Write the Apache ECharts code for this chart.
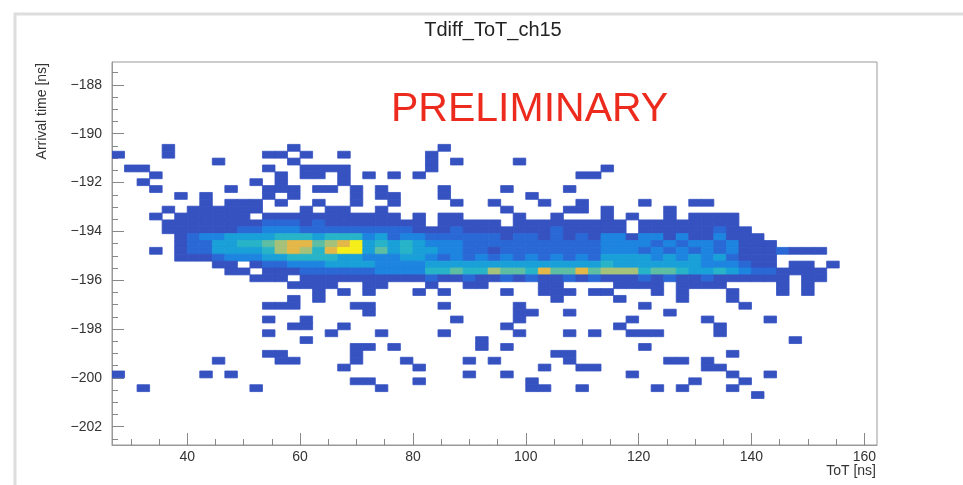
<!DOCTYPE html>
<html>
<head>
<meta charset="utf-8">
<title>Tdiff_ToT_ch15</title>
<script src="https://cdn.jsdelivr.net/npm/echarts@6/dist/echarts.min.js"></script>
<style>
  html, body { margin: 0; padding: 0; background: #fff; }
  #chart { width: 963px; height: 485px; }
</style>
</head>
<body>
<div id="chart"></div>
<script>
// visible range and binning of the histogram (ns)
const xMin = 26.667, xMax = 162.25;
const yMin = -202.75, yMax = -187.0625;
const xBin = 2.2222, yBin = 0.28125;
const firstRow = 12; // first stored row, counted down from yMax

// tick labels
const xMajor = [40, 60, 80, 100, 120, 140, 160];
const xMinor = [30, 35, 45, 50, 55, 65, 70, 75, 85, 90, 95, 105, 110, 115, 125, 130, 135, 145, 150, 155];
const yMajor = [-188, -190, -192, -194, -196, -198, -200, -202];
const yMinor = [-187.5, -188.5, -189, -189.5, -190.5, -191, -191.5, -192.5, -193, -193.5, -194.5,
  -195, -195.5, -196.5, -197, -197.5, -198.5, -199, -199.5, -200.5, -201, -201.5, -202.5];

// colour level of each bin (1..9, '.' = empty), one string per row, top to bottom
const counts = [
  '....1..... ....1..... ......1... .......... .......... ...........',
  '1...1..... ..11.1..1. .....1.... .......... .......... ...........',
  '........1. ....1..... .....1.1.. ..1....... .......... ...........',
  '.11....... ..1..1111. .....1.... .........1 .......... ...........',
  '...1...... ...1.11.1. 1.1.1..... .......11. .......... ...........',
  '..1....... .1.1....1. .......... .......... .......... ...........',
  '...1.....1 ..111.11.1 .1....1... .1....1... .......... ...........',
  '.....1.1.. ..1.1....1 .11...1... ...1...... .......... ...........',
  '.......1.1 11.1..1..1 ..1....1.. 1...1..1.. ..1...11.. ...........',
  '....1.1111 11...1.11. .1........ .1....11.1 ....1..... ...........',
  '...1.11111 1.11111111 111.1.11.. ..1..1...1 .1..1.1111 ...........',
  '....111111 1122212111 11111.1111 1.11111111 1.11111111 ...........',
  '....111111 2233322222 2222111211 1111121111 1.11111121 1..........',
  '.....12334 4445554555 3423322222 2122121213 3133131131 11.........',
  '.....12244 5567886789 4545433322 2222222223 3332323323 111........',
  '...1.12244 4457875899 4645443322 1222222223 3323232323 1112111....',
  '.....11123 3344555544 3334432323 2323232324 4443434342 111........',
  '........11 .122333444 4333344444 4444444445 4444444333 211.11.1...',
  '.........1 1.11122222 2333355655 7665866867 7756654454 3221111....',
  '.......... .111.11111 1111121121 1212112121 1121211211 1111.11....',
  '.......... ....1111.. 11...1..11 ....11.... 1111.1111. ...1.1.....',
  '.......... ......1.1. 1...1.1... .1..111.11 ...1.1...1 ...1.1.....',
  '.......... ....1.1... .......... .....1.... 1....1...1 ...........',
  '.......... ..111....1 1.....1... ..1....... ..1....... 1..........',
  '.......... .......... 1......... ..11..1... ....1..... ...........',
  '.......... ..1..1.... .......1.. ..1....... .1.....1.. ..1........',
  '.......... ....11..1. .......... .1........ 1.......1. ...........',
  '.......... ..1....1.. .1....1... ..1...1.1. .111....1. ...........',
  '.......... .....1.... .........1 .......... .......... ....1......',
  '.......... .........1 1.1......1 .1........ ..1....... ...........',
  '.......... ..11.....1 .......... .....11... .........1 ...........',
  '........1. ...11....1 ...1....1. 1.....1... ....11.1.. ...........',
  '.......... ........1. ....1..... ....1..11. .......11. ...........',
  '1......1.1 .......... ........1. .1........ .1.......1 ..1........',
  '.......... .........1 1...1..... ...1...... ......1... 1..........',
  '..1....... .1........ .1........ ...11..1.. ...1.1...1 ...........',
  '.......... .......... .......... .......... .......... .1.........'
];

const levelColors = ['#3552c0', '#2a68d6', '#1d84e0', '#1aa0d8', '#28b4c8',
  '#5dbea4', '#a6c27a', '#e4b848', '#f6ee1a'];

const font = 'Liberation Sans';

const data = [];
counts.forEach((row, i) => {
  const cells = row.replace(/ /g, '');
  for (let c = 0; c < cells.length; c++) {
    if (cells[c] === '.') continue;
    data.push([xMin + (c + 0.5) * xBin, yMax - (firstRow + i + 0.5) * yBin, +cells[c]]);
  }
});

function renderBin(params, api) {
  const x = api.value(0), y = api.value(1);
  const p0 = api.coord([x - xBin / 2, y + yBin / 2]);
  const p1 = api.coord([x + xBin / 2, y - yBin / 2]);
  const color = api.visual('color');
  return {
    type: 'rect',
    shape: { x: p0[0], y: p0[1], width: p1[0] - p0[0], height: p1[1] - p0[1] },
    // thin stroke of the same colour closes the hairline gaps between bins
    style: { fill: color, stroke: color, lineWidth: 0.8 }
  };
}

const minus = v => String(v).replace('-', '\u2212');

const chart = echarts.init(document.getElementById('chart'));

chart.setOption({
  animation: false,
  backgroundColor: '#fff',
  textStyle: { fontFamily: font },
  grid: {
    left: 112, right: 86, top: 62, bottom: 40,
    show: true, borderColor: '#999', borderWidth: 1
  },
  xAxis: [
    {
      type: 'value', min: xMin, max: xMax, position: 'bottom',
      axisLine: { lineStyle: { color: '#999' } },
      axisTick: { inside: true, length: 12, customValues: xMajor, lineStyle: { color: '#888' } },
      axisLabel: { customValues: xMajor, margin: 5, fontSize: 14, color: '#333', fontFamily: font },
      splitLine: { show: false }
    },
    {
      type: 'value', min: xMin, max: xMax, position: 'bottom',
      axisLine: { show: false },
      axisTick: { inside: true, length: 6, customValues: xMinor, lineStyle: { color: '#888' } },
      axisLabel: { show: false },
      splitLine: { show: false }
    }
  ],
  yAxis: [
    {
      type: 'value', min: yMin, max: yMax, position: 'left',
      axisLine: { show: true, lineStyle: { color: '#999' } },
      axisTick: { show: true, inside: true, length: 12, customValues: yMajor, lineStyle: { color: '#888' } },
      axisLabel: { customValues: yMajor, margin: 10, fontSize: 14, color: '#333', fontFamily: font, formatter: minus },
      splitLine: { show: false }
    },
    {
      type: 'value', min: yMin, max: yMax, position: 'left',
      axisLine: { show: false },
      axisTick: { show: true, inside: true, length: 6, customValues: yMinor, lineStyle: { color: '#888' } },
      axisLabel: { show: false },
      splitLine: { show: false }
    }
  ],
  visualMap: {
    show: false, type: 'continuous', dimension: 2, seriesIndex: 0,
    min: 1, max: 9, inRange: { color: levelColors }
  },
  series: [{
    type: 'custom',
    xAxisIndex: 0, yAxisIndex: 0,
    clip: true,
    renderItem: renderBin,
    encode: { x: 0, y: 1 },
    data: data
  }],
  graphic: [
    // pad border
    { type: 'polyline', silent: true, shape: { points: [[15, 485], [15, 14], [963, 14]] },
      style: { stroke: '#dddddd', lineWidth: 3, fill: null } },
    { type: 'text', x: 493, y: 30,
      style: { text: 'Tdiff_ToT_ch15', font: '20px "Liberation Sans"', fill: '#222', align: 'center', verticalAlign: 'middle' } },
    { type: 'text', x: 391, y: 110,
      style: { text: 'PRELIMINARY', font: '41px "Liberation Sans"', fill: '#ec2a1e', align: 'left', verticalAlign: 'middle' } },
    { type: 'text', x: 42, y: 63, rotation: Math.PI / 2,
      style: { text: 'Arrival time [ns]', font: '14px "Liberation Sans"', fill: '#333', align: 'right', verticalAlign: 'middle' } },
    { type: 'text', x: 876, y: 471,
      style: { text: 'ToT [ns]', font: '14px "Liberation Sans"', fill: '#333', align: 'right', verticalAlign: 'middle' } }
  ]
});
</script>
</body>
</html>
